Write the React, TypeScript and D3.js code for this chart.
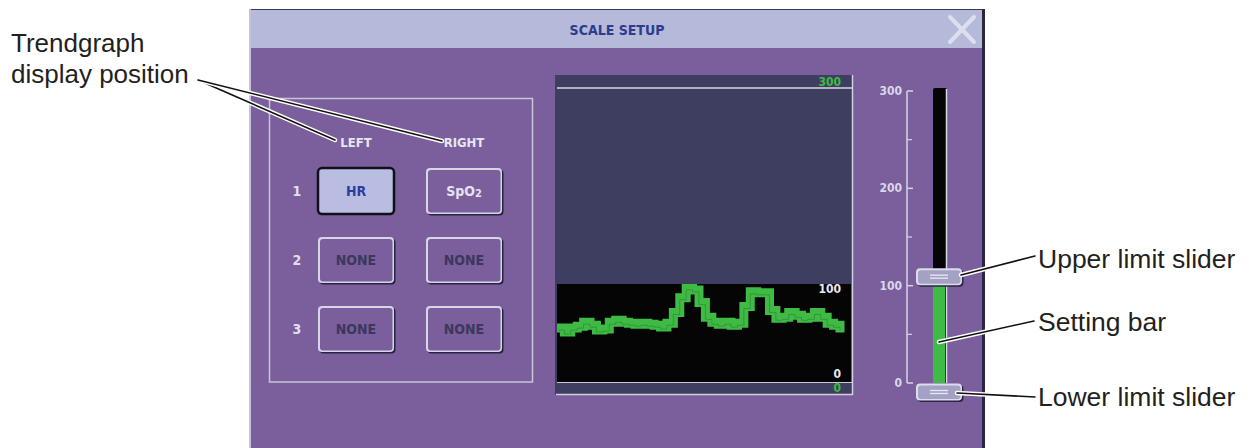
import React from "react";
import * as d3 from "d3";

const W = 1251;
const H = 448;

// Trend values (HR band), sampled left to right
const trendValues = [55, 51, 55, 57, 61, 58, 53, 54, 61, 63, 61, 60, 59, 60, 59, 58, 56, 60, 71, 86, 96, 94, 81, 66, 61, 59, 61, 58, 60, 77, 92, 91, 91, 73, 65, 66, 71, 68, 65, 66, 71, 66, 60, 58, 55];
const scaleMajorTicks = [0, 100, 200, 300];
const scaleMinorTicks = [50, 150, 250];
const upperLimit = 100;
const lowerLimit = 0;
const scaleMax = 300;
const rowLabels = ["1", "2", "3"];
const leftParams = ["HR", "NONE", "NONE"];
const rightParams = ["SpO2", "NONE", "NONE"];
const columnLabels = ["LEFT", "RIGHT"];
const title = "SCALE SETUP";
const rightNotes = ["Upper limit slider", "Setting bar", "Lower limit slider"];

const UI_FONT = "'DejaVu Sans Condensed', 'Liberation Sans Narrow', 'DejaVu Sans', sans-serif";
const NOTE_FONT = "'Liberation Sans', Arial, Helvetica, sans-serif";

const PURPLE = "#7b5e9c";
const TITLE_BG = "#b5b9da";
const GRAPH_BG = "#3e3e60";
const GREEN = "#3fbb45";

function Button({ x, y, w, h, label, selected }: any) {
  if (selected) {
    return (
      <g>
        <rect x={x} y={y} width={w} height={h} rx={4} fill="#b9bde2" stroke="#101018" strokeWidth={2.5} />
        <text x={x + w / 2} y={y + h / 2 + 5} textAnchor="middle" fontFamily={UI_FONT} fontWeight="bold" fontSize={14} fill="#2c3c9e">{label}</text>
      </g>
    );
  }
  const isSpO2 = label === "SpO2";
  return (
    <g>
      <rect x={x + 1.5} y={y + 1.5} width={w} height={h} rx={4} fill="#28243e" />
      <rect x={x} y={y} width={w} height={h} rx={4} fill="#d6d6e6" />
      <rect x={x + 2} y={y + 2} width={w - 3.5} height={h - 3.5} rx={3} fill={PURPLE} />
      {isSpO2 ? (
        <text x={x + w / 2} y={y + h / 2 + 5} textAnchor="middle" fontFamily={UI_FONT} fontWeight="bold" fontSize={14} fill="#e4e4f0">
          SpO<tspan fontSize={11} dy={1}>2</tspan>
        </text>
      ) : (
        <text x={x + w / 2} y={y + h / 2 + 5} textAnchor="middle" fontFamily={UI_FONT} fontWeight="bold" fontSize={14} fill="#3a385c">{label}</text>
      )}
    </g>
  );
}

function Leader({ points }: { points: [number, number][] }) {
  const d = d3.line()(points) || "";
  return (
    <g>
      <path d={d} fill="none" stroke="#ffffff" strokeWidth={4.5} strokeLinecap="round" />
      <path d={d} fill="none" stroke="#111111" strokeWidth={1.6} strokeLinecap="round" />
    </g>
  );
}

function Knob({ cx, cy }: { cx: number; cy: number }) {
  const w = 46, h = 17;
  return (
    <g>
      <rect x={cx - w / 2 + 1.5} y={cy - h / 2 + 1.5} width={w} height={h} rx={4} fill="#2a2640" />
      <rect x={cx - w / 2} y={cy - h / 2} width={w} height={h} rx={4} fill="#dcdcec" />
      <rect x={cx - w / 2 + 2} y={cy - h / 2 + 2} width={w - 3.5} height={h - 3.5} rx={3} fill="#a4a2c4" />
      <line x1={cx - 9} x2={cx + 9} y1={cy - 1.5} y2={cy - 1.5} stroke="#e8e8f4" strokeWidth={1.3} />
      <line x1={cx - 9} x2={cx + 9} y1={cy + 1.5} y2={cy + 1.5} stroke="#e8e8f4" strokeWidth={1.3} />
    </g>
  );
}

export default function App() {
  // Graph scales
  const yGraph = d3.scaleLinear().domain([0, scaleMax]).range([382, 88]);
  const xTrend = d3.scaleLinear().domain([0, trendValues.length - 1]).range([558, 840]);
  const trendLine = d3
    .line<number>()
    .x((_, i) => xTrend(i))
    .y((v) => yGraph(v))
    .curve(d3.curveStepAfter);

  // Slider scale
  const ySlider = d3.scaleLinear().domain([0, scaleMax]).range([383, 91]);
  const scaleX = 907;
  const trackX0 = 933, trackX1 = 947;

  // Button grid
  const colX = [318, 426];
  const rowY = [168, 237, 306];
  const bw = 76, bh = 46;

  const blackTop = yGraph(upperLimit);
  const blackBottom = yGraph(lowerLimit);
  const trendPath = trendLine(trendValues) || "";

  return (
    <svg width={W} height={H} style={{ position: "absolute", left: 0, top: 0, background: "#ffffff" }}>
      <defs>
        <clipPath id="blackClip">
          <rect x={557} y={blackTop} width={294} height={blackBottom - blackTop} />
        </clipPath>
      </defs>

      {/* Dialog window */}
      <rect x={249} y={9} width={735} height={H - 9} fill={PURPLE} />
      <rect x={249} y={9} width={735} height={39} fill={TITLE_BG} />
      <line x1={249} x2={984} y1={9.5} y2={9.5} stroke="#3a3850" strokeWidth={1} />
      <rect x={249} y={9} width={2} height={H - 9} fill="#c4c4d6" />
      <rect x={982} y={9} width={3} height={H - 9} fill="#2a2540" />
      <text x={617} y={35} textAnchor="middle" fontFamily={UI_FONT} fontWeight="bold" fontSize={14} fill="#2c3b8e">{title}</text>
      <g stroke="#dde0ec" strokeWidth={4} strokeLinecap="round">
        <line x1={950} y1={17} x2={974} y2={42} />
        <line x1={974} y1={17} x2={950} y2={42} />
      </g>

      {/* Left selection box */}
      <rect x={269.5} y={98.5} width={263} height={283.5} fill="none" stroke="#c6c6d8" strokeWidth={1.5} />
      {columnLabels.map((c, i) => (
        <text key={c} x={colX[i] + bw / 2} y={147} textAnchor="middle" fontFamily={UI_FONT} fontWeight="bold" fontSize={13} fill="#e6e6f0">{c}</text>
      ))}
      {rowLabels.map((r, i) => (
        <text key={r} x={297} y={rowY[i] + bh / 2 + 5} textAnchor="middle" fontFamily={UI_FONT} fontWeight="bold" fontSize={14} fill="#e0e0ec">{r}</text>
      ))}
      {rowLabels.map((r, i) => (
        <g key={"b" + r}>
          <Button x={colX[0]} y={rowY[i]} w={bw} h={bh} label={leftParams[i]} selected={i === 0} />
          <Button x={colX[1]} y={rowY[i]} w={bw} h={bh} label={rightParams[i]} selected={false} />
        </g>
      ))}

      {/* Trend graph */}
      <rect x={555} y={75} width={298} height={320} fill={GRAPH_BG} />
      <rect x={557} y={blackTop} width={294} height={blackBottom - blackTop} fill="#050505" />
      <line x1={557} x2={852} y1={yGraph(scaleMax)} y2={yGraph(scaleMax)} stroke="#d8d8e6" strokeWidth={1.5} />
      <line x1={557} x2={852} y1={blackBottom + 0.5} y2={blackBottom + 0.5} stroke="#c8c8d8" strokeWidth={1.2} />
      <line x1={556} x2={853} y1={394.5} y2={394.5} stroke="#d0d0e0" strokeWidth={1.5} />
      <line x1={852.5} x2={852.5} y1={75} y2={395} stroke="#d0d0e0" strokeWidth={1.5} />
      <text x={841} y={86} textAnchor="end" fontFamily={UI_FONT} fontWeight="bold" fontSize={12} fill={GREEN}>{String(scaleMax)}</text>
      <text x={841} y={293} textAnchor="end" fontFamily={UI_FONT} fontWeight="bold" fontSize={12} fill="#e8e8f0">{String(upperLimit)}</text>
      <text x={841} y={378} textAnchor="end" fontFamily={UI_FONT} fontWeight="bold" fontSize={12} fill="#e8e8f0">{String(lowerLimit)}</text>
      <text x={841} y={392} textAnchor="end" fontFamily={UI_FONT} fontWeight="bold" fontSize={12} fill={GREEN}>{String(lowerLimit)}</text>
      <g clipPath="url(#blackClip)">
        <path d={trendPath} fill="none" stroke={GREEN} strokeWidth={9} strokeLinejoin="miter" strokeLinecap="square" />
        <path d={trendPath} fill="none" stroke="#237a2a" strokeWidth={1} strokeOpacity={0.5} transform="translate(0,2)" />
      </g>

      {/* Slider scale */}
      <line x1={scaleX} x2={scaleX} y1={ySlider(scaleMax)} y2={ySlider(0)} stroke="#d4d4e4" strokeWidth={1.5} />
      {scaleMajorTicks.map((t) => (
        <g key={"M" + t}>
          <line x1={scaleX} x2={scaleX + 6} y1={ySlider(t)} y2={ySlider(t)} stroke="#d4d4e4" strokeWidth={1.5} />
          <text x={902} y={ySlider(t) + 4} textAnchor="end" fontFamily={UI_FONT} fontWeight="bold" fontSize={12} fill="#d8d8e6">{String(t)}</text>
        </g>
      ))}
      {scaleMinorTicks.map((t) => (
        <line key={"m" + t} x1={scaleX} x2={scaleX + 5} y1={ySlider(t)} y2={ySlider(t)} stroke="#d4d4e4" strokeWidth={1.2} />
      ))}
      <rect x={trackX0} y={ySlider(scaleMax) - 3} width={trackX1 - trackX0} height={ySlider(0) - ySlider(scaleMax) + 3} rx={2} fill="#050505" />
      <rect x={trackX0} y={ySlider(upperLimit)} width={trackX1 - trackX0 - 2} height={ySlider(lowerLimit) - ySlider(upperLimit)} fill={GREEN} />
      <line x1={trackX1 - 0.5} x2={trackX1 - 0.5} y1={ySlider(scaleMax) - 2} y2={ySlider(0)} stroke="#d8d8e6" strokeWidth={1.5} />
      <Knob cx={939} cy={ySlider(upperLimit) - 9} />
      <Knob cx={939} cy={ySlider(lowerLimit) + 9} />

      {/* Annotations */}
      <text x={11} y={52} fontFamily={NOTE_FONT} fontSize={26} fill="#231f20">Trendgraph</text>
      <text x={11} y={83} fontFamily={NOTE_FONT} fontSize={26} fill="#231f20">display position</text>
      <Leader points={[[198, 80], [335, 140]]} />
      <Leader points={[[198, 80], [442, 141]]} />

      <Leader points={[[961, 275], [1035, 256]]} />
      <Leader points={[[939, 342], [1034, 321]]} />
      <Leader points={[[957, 393], [1035, 397]]} />
      <text x={1038} y={268} fontFamily={NOTE_FONT} fontSize={26.5} fill="#231f20">{rightNotes[0]}</text>
      <text x={1038} y={331} fontFamily={NOTE_FONT} fontSize={26.5} fill="#231f20">{rightNotes[1]}</text>
      <text x={1038} y={406} fontFamily={NOTE_FONT} fontSize={26.5} fill="#231f20">{rightNotes[2]}</text>
    </svg>
  );
}
